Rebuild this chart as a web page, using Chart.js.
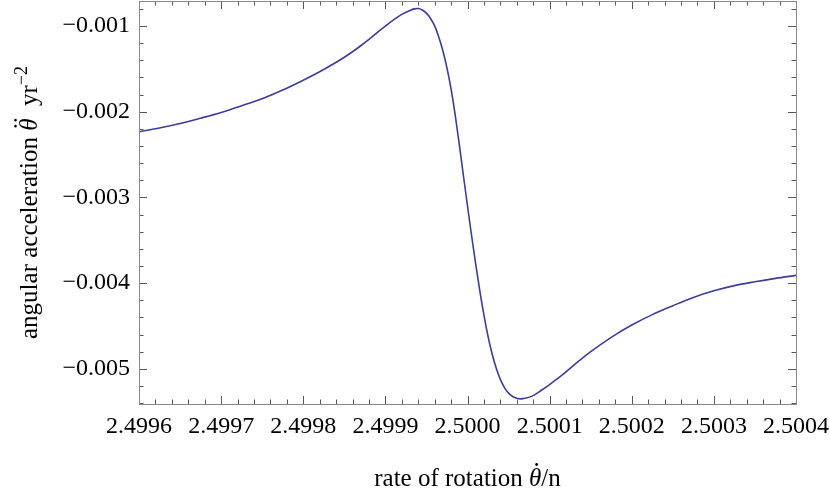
<!DOCTYPE html>
<html>
<head>
<meta charset="utf-8">
<script src="https://cdn.jsdelivr.net/npm/chart.js@4/dist/chart.umd.min.js"></script>
<style>
  html, body { margin: 0; padding: 0; background: #fff; }
  #wrap { width: 830px; height: 495px; }
</style>
</head>
<body>
<div id="wrap"><canvas id="accelChart" width="830" height="495"></canvas></div>
<script>
// rate of rotation (theta dot / n)
const rateOfRotation = [
    2.4996, 2.499625, 2.49965, 2.499675, 2.4997, 2.499725, 2.49975, 2.499775, 2.4998,
    2.49982, 2.499835, 2.49985, 2.49986, 2.49987, 2.49988, 2.49989, 2.4999, 2.49991,
    2.49992, 2.49993, 2.499935, 2.49994, 2.499945, 2.49995, 2.499955, 2.49996,
    2.499965, 2.49997, 2.499975, 2.49998, 2.499985, 2.49999, 2.499995, 2.5,
    2.500005, 2.50001, 2.500015, 2.50002, 2.500025, 2.50003, 2.500035, 2.50004,
    2.500045, 2.50005, 2.500055, 2.50006, 2.500065, 2.50007, 2.50008, 2.50009,
    2.5001, 2.50011, 2.50012, 2.500135, 2.50015, 2.500175, 2.5002, 2.500225,
    2.50025, 2.500275, 2.5003, 2.500325, 2.50035, 2.500375, 2.5004
];

// angular acceleration (yr^-2)
const angularAccel = [
    -0.002233, -0.002190, -0.002138, -0.002075, -0.002008, -0.001930, -0.001848, -0.001747, -0.001632,
    -0.001533, -0.001452, -0.001364, -0.001300, -0.001230, -0.001156, -0.001078, -0.001000, -0.000928,
    -0.000864, -0.000818, -0.000800, -0.000795, -0.000813, -0.000850, -0.000912, -0.000999,
    -0.001129, -0.001289, -0.001489, -0.001737, -0.002037, -0.002382, -0.002744, -0.003100,
    -0.003447, -0.003779, -0.004091, -0.004373, -0.004620, -0.004827, -0.004994, -0.005123,
    -0.005218, -0.005283, -0.005322, -0.005343, -0.005350, -0.005344, -0.005312, -0.005250,
    -0.005184, -0.005110, -0.005034, -0.004914, -0.004800, -0.004632, -0.004489, -0.004367,
    -0.004263, -0.004166, -0.004089, -0.004029, -0.003984, -0.003944, -0.003909
];

const xTickValues = [2.4996, 2.4997, 2.4998, 2.4999, 2.5, 2.5001, 2.5002, 2.5003, 2.5004];
const yTickValues = [-0.001, -0.002, -0.003, -0.004, -0.005];

const xMin = 2.4996, xMax = 2.5004;
const yMin = -0.00541, yMax = -0.000708;

const serif = "'Liberation Serif', 'DejaVu Serif', serif";
const frameColor = '#8a8a8a';

// inward ticks on all four sides, like a Mathematica frame
const frameTicks = {
    id: 'frameTicks',
    afterDraw(chart) {
        const ctx = chart.ctx;
        const a = chart.chartArea;
        const xs = chart.scales.x, ys = chart.scales.y;
        ctx.save();
        ctx.strokeStyle = '#555';
        ctx.lineWidth = 1;
        ctx.beginPath();
        for (let i = 0; i <= 40; i++) {
            const v = xMin + i * 0.00002;
            const px = Math.round(xs.getPixelForValue(v)) + 0.5;
            const len = (i % 5 === 0) ? 8 : 4.5;
            ctx.moveTo(px, a.bottom); ctx.lineTo(px, a.bottom - len);
            ctx.moveTo(px, a.top); ctx.lineTo(px, a.top + len);
        }
        for (let i = 0; i <= 30; i++) {
            const v = -0.0006 - i * 0.0002;
            if (v < yMin || v > yMax) continue;
            const py = Math.round(ys.getPixelForValue(v)) + 0.5;
            const major = Math.abs(Math.round(v * 1000) - v * 1000) < 1e-6;
            const len = major ? 8 : 4.5;
            ctx.moveTo(a.left, py); ctx.lineTo(a.left + len, py);
            ctx.moveTo(a.right, py); ctx.lineTo(a.right - len, py);
        }
        ctx.stroke();
        ctx.strokeStyle = frameColor;
        ctx.strokeRect(Math.round(a.left) + 0.5, Math.round(a.top) + 0.5,
            Math.round(a.right - a.left), Math.round(a.bottom - a.top));
        ctx.restore();
    }
};

function drawPieces(ctx, pieces, size) {
    let total = 0;
    pieces.forEach(p => {
        ctx.font = (p.italic ? 'italic ' : '') + (p.sup ? Math.round(size * 0.7) : size) + 'px ' + serif;
        p.w = ctx.measureText(p.text).width;
        total += p.w;
    });
    let x = -total / 2;
    pieces.forEach(p => {
        ctx.font = (p.italic ? 'italic ' : '') + (p.sup ? Math.round(size * 0.7) : size) + 'px ' + serif;
        const y = p.sup ? -size * 0.42 : 0;
        ctx.fillText(p.text, x, y);
        if (p.dots) {
            const cx = x + p.w * 0.62;
            const cy = -size * 0.86;
            ctx.beginPath();
            if (p.dots === 1) {
                ctx.arc(cx, cy, 1.4, 0, Math.PI * 2);
            } else {
                ctx.arc(cx - 3, cy, 1.3, 0, Math.PI * 2);
                ctx.arc(cx + 3, cy, 1.3, 0, Math.PI * 2);
            }
            ctx.fill();
        }
        x += p.w;
    });
}

// axis titles with italic theta and superscript
const axisTitles = {
    id: 'axisTitles',
    afterDraw(chart) {
        const ctx = chart.ctx;
        const a = chart.chartArea;
        ctx.save();
        ctx.fillStyle = '#000';
        ctx.textBaseline = 'alphabetic';
        ctx.textAlign = 'left';

        ctx.save();
        ctx.translate((a.left + a.right) / 2, 486);
        drawPieces(ctx, [
            { text: 'rate of rotation ' },
            { text: 'θ', italic: true, dots: 1 },
            { text: '/n' }
        ], 25);
        ctx.restore();

        ctx.save();
        ctx.translate(37, (a.top + a.bottom) / 2);
        ctx.rotate(-Math.PI / 2);
        drawPieces(ctx, [
            { text: 'angular acceleration ' },
            { text: 'θ', italic: true, dots: 2 },
            { text: '  yr' },
            { text: '−2', sup: true }
        ], 25);
        ctx.restore();

        ctx.restore();
    }
};

function noScalePadding(scale) {
    scale.paddingTop = 0;
    scale.paddingBottom = 0;
    scale.paddingLeft = 0;
    scale.paddingRight = 0;
}

const ctx = document.getElementById('accelChart');
const accelChart = new Chart(ctx, {
    type: 'line',
    data: {
        datasets: [{
            label: 'angular acceleration',
            data: rateOfRotation.map((x, i) => ({ x: x, y: angularAccel[i] })),
            borderColor: '#3d3d99',
            borderWidth: 1.6,
            pointRadius: 0,
            fill: false,
            cubicInterpolationMode: 'monotone'
        }]
    },
    options: {
        responsive: false,
        animation: false,
        layout: { padding: { left: 0, right: 34, top: 1, bottom: 0 } },
        plugins: {
            legend: { display: false },
            tooltip: { enabled: false }
        },
        scales: {
            x: {
                type: 'linear',
                min: xMin,
                max: xMax,
                afterBuildTicks: scale => { scale.ticks = xTickValues.map(v => ({ value: v })); },
                afterFit: scale => { scale.height = 91; noScalePadding(scale); },
                ticks: {
                    color: '#000',
                    font: { family: serif, size: 24 },
                    padding: 8,
                    maxRotation: 0,
                    autoSkip: false,
                    callback: v => Number(v).toFixed(4)
                },
                grid: { display: false, drawTicks: false },
                border: { display: false }
            },
            y: {
                type: 'linear',
                min: yMin,
                max: yMax,
                afterBuildTicks: scale => { scale.ticks = yTickValues.map(v => ({ value: v })); },
                afterFit: scale => { scale.width = 139; noScalePadding(scale); },
                ticks: {
                    color: '#000',
                    font: { family: serif, size: 24 },
                    padding: 9,
                    autoSkip: false,
                    callback: v => '−' + Math.abs(v).toFixed(3)
                },
                grid: { display: false, drawTicks: false },
                border: { display: false }
            }
        }
    },
    plugins: [frameTicks, axisTitles]
});
</script>
</body>
</html>
